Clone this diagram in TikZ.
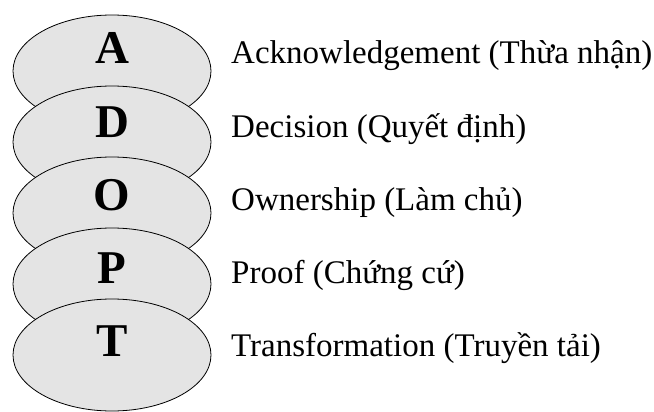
\documentclass[tikz,border=0pt]{standalone}
\usepackage{fontspec}
\setmainfont{Liberation Serif}
\usetikzlibrary{shapes.geometric}
\definecolor{discgray}{HTML}{E4E4E4}

\begin{document}
\begin{tikzpicture}[x=1pt,y=-1pt,
		disc/.style={ellipse,draw,line width=0.8pt,fill=discgray,minimum width=198pt,minimum height=112pt,inner sep=0pt},
		letter/.style={anchor=base,inner sep=0pt,font=\fontsize{47}{47}\selectfont\bfseries},
		caption/.style={anchor=base west,inner sep=0pt,font=\fontsize{33}{33}\selectfont}]
		
		\useasboundingbox (0,0) rectangle (654,412);
		
		\foreach \l/\t [count=\i from 0] in {A/Acknowledgement (Thừa nhận), D/Decision (Quyết định), O/Ownership (Làm chủ), P/Proof (Chứng cứ), T/Transformation (Truyền tải)} {
			\node (e\i) at (112,71+71*\i) [disc] {};
			\node (l\i) at (112,64+73*\i) [letter] {\l};
			\node (t\i) at (231,64+73*\i) [caption] {\t};
		}
		
	\end{tikzpicture}
\end{document}
